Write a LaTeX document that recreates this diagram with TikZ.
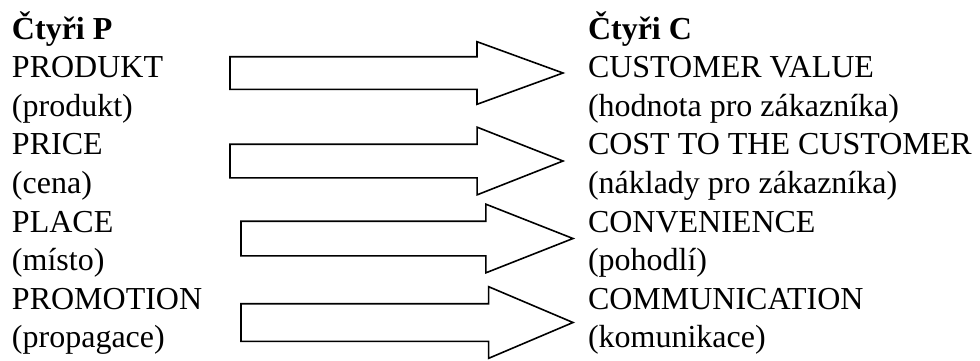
\documentclass[tikz,border=0pt]{standalone}
\usepackage{fontspec}
\setmainfont{Liberation Serif}
\usepackage{tikz}
\usetikzlibrary{shapes,arrows,positioning}
\tikzstyle{lbl} = [anchor=base west, inner sep=0pt, outer sep=0pt, font=\fontsize{32}{38.6}\selectfont]
\tikzstyle{head} = [lbl, font=\fontsize{32}{38.6}\selectfont\bfseries]
\tikzstyle{bigarrow} = [single arrow, draw, line width=1.6pt, fill=white, inner xsep=0pt, inner ysep=16pt, outer sep=0pt, anchor=tail, minimum height=333pt, single arrow head extend=17pt, single arrow tip angle=43]

\begin{document}
\begin{tikzpicture}[x=1pt, y=-1pt]
    \useasboundingbox (0,0) rectangle (980,360);
    % left column
    \node[head] (fourp) at (12,39) {Čtyři P};
    \node[lbl] (prod) at (12,77.6) {PRODUKT};
    \node[lbl] (prodcz) at (12,116.2) {(produkt)};
    \node[lbl] (price) at (12,154.8) {PRICE};
    \node[lbl] (pricecz) at (12,193.4) {(cena)};
    \node[lbl] (place) at (12,232) {PLACE};
    \node[lbl] (placecz) at (12,270.6) {(místo)};
    \node[lbl] (promo) at (12,309.2) {PROMOTION};
    \node[lbl] (promocz) at (12,347.8) {(propagace)};

    % right column
    \node[head] (fourc) at (588,39) {Čtyři C};
    \node[lbl] (value) at (588,77.6) {CUSTOMER VALUE};
    \node[lbl] (valuecz) at (588,116.2) {(hodnota pro zákazníka)};
    \node[lbl] (cost) at (588,154.8) {COST TO THE CUSTOMER};
    \node[lbl] (costcz) at (588,193.4) {(náklady pro zákazníka)};
    \node[lbl] (conv) at (588,232) {CONVENIENCE};
    \node[lbl] (convcz) at (588,270.6) {(pohodlí)};
    \node[lbl] (comm) at (588,309.2) {COMMUNICATION};
    \node[lbl] (commcz) at (588,347.8) {(komunikace)};

    % block arrows
    \node[bigarrow, inner ysep=15.5pt, single arrow head extend=15pt, single arrow tip angle=40] (arrprod) at (230,73) {};
    \node[bigarrow] (arrprice) at (230,161) {};
    \node[bigarrow, minimum height=332pt, inner ysep=16.5pt] (arrplace) at (241,238.5) {};
    \node[bigarrow, minimum height=332pt, inner ysep=18pt, single arrow tip angle=46] (arrpromo) at (241,322.5) {};
\end{tikzpicture}
\end{document}
